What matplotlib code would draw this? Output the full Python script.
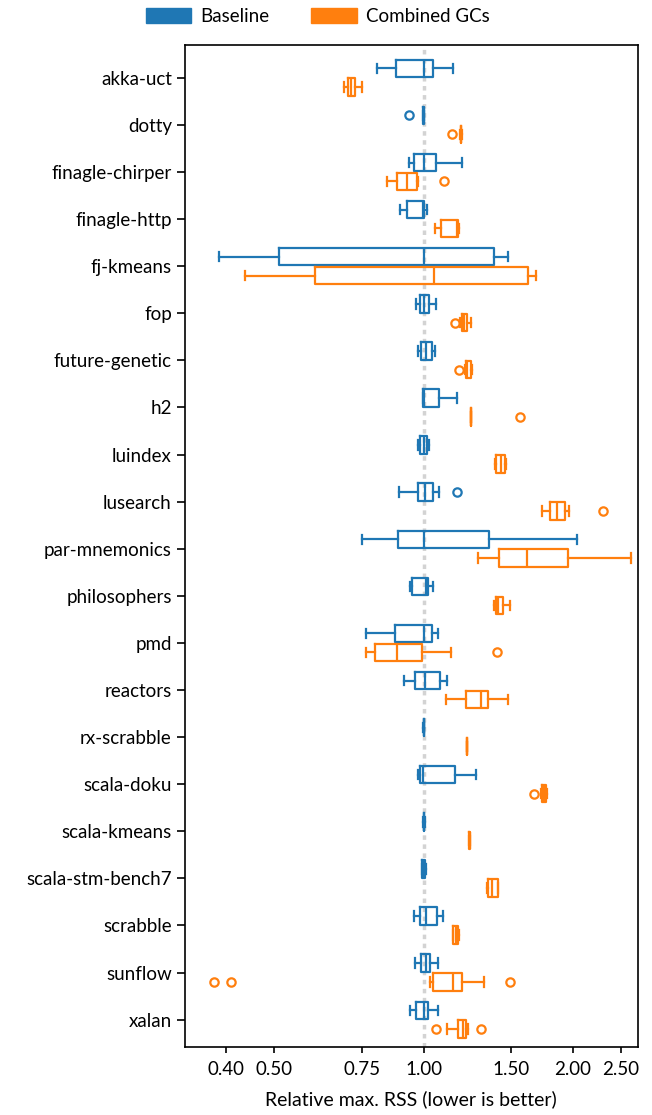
import matplotlib
matplotlib.use("Agg")
import matplotlib.pyplot as plt
from matplotlib.patches import Patch
import numpy as np

plt.rcParams['font.family'] = ['Lato', 'DejaVu Sans']

categories = ["akka-uct", "dotty", "finagle-chirper", "finagle-http", "fj-kmeans", "fop",
              "future-genetic", "h2", "luindex", "lusearch", "par-mnemonics", "philosophers",
              "pmd", "reactors", "rx-scrabble", "scala-doku", "scala-kmeans",
              "scala-stm-bench7", "scrabble", "sunflow", "xalan"]

# Baseline: whislo, q1, med, q3, whishi
base_whislo = [0.804, 0.997, 0.933, 0.896, 0.386, 0.963, 0.974, 0.995, 0.975, 0.890, 0.751, 0.938,
               0.764, 0.913, 0.998, 0.975, 0.998, 0.990, 0.957, 0.962, 0.938]
base_q1 =     [0.880, 0.998, 0.955, 0.924, 0.510, 0.983, 0.986, 0.995, 0.985, 0.974, 0.889, 0.946,
               0.876, 0.959, 0.999, 0.983, 0.999, 0.992, 0.983, 0.986, 0.963]
base_med =    [1.003, 1.000, 1.003, 0.995, 1.000, 1.003, 1.011, 1.000, 1.000, 1.006, 1.000, 1.010,
               1.000, 1.005, 1.000, 0.998, 1.000, 1.000, 1.010, 1.009, 1.003]
base_q3 =     [1.043, 1.002, 1.059, 1.000, 1.386, 1.025, 1.038, 1.075, 1.015, 1.043, 1.356, 1.020,
               1.041, 1.080, 1.001, 1.157, 1.001, 1.008, 1.062, 1.028, 1.022]
base_whishi = [1.147, 1.003, 1.193, 1.014, 1.477, 1.057, 1.054, 1.166, 1.025, 1.072, 2.034, 1.046,
               1.067, 1.113, 1.003, 1.273, 1.004, 1.010, 1.095, 1.067, 1.070]
base_fliers = [[], [0.933], [], [], [], [], [], [], [], [1.169], [], [],
               [], [], [], [], [], [], [], [], []]

# Combined GCs
comb_whislo = [0.689, 1.185, 0.845, 1.054, 0.437, 1.184, 1.211, 1.243, 1.390, 1.734, 1.285, 1.386,
               0.764, 1.111, 1.220, 1.720, 1.235, 1.343, 1.144, 1.030, 1.116]
comb_q1 =     [0.703, 1.187, 0.882, 1.085, 0.604, 1.193, 1.215, 1.244, 1.397, 1.798, 1.419, 1.398,
               0.797, 1.217, 1.221, 1.735, 1.236, 1.350, 1.146, 1.046, 1.171]
comb_med =    [0.714, 1.189, 0.924, 1.166, 1.047, 1.206, 1.225, 1.245, 1.430, 1.855, 1.615, 1.414,
               0.885, 1.305, 1.222, 1.750, 1.237, 1.375, 1.160, 1.144, 1.199]
comb_q3 =     [0.727, 1.191, 0.968, 1.171, 1.625, 1.221, 1.244, 1.246, 1.459, 1.927, 1.957, 1.447,
               0.991, 1.348, 1.223, 1.765, 1.238, 1.410, 1.174, 1.197, 1.217]
comb_whishi = [0.751, 1.193, 0.974, 1.180, 1.682, 1.244, 1.250, 1.247, 1.465, 1.963, 2.615, 1.493,
               1.135, 1.481, 1.224, 1.775, 1.240, 1.414, 1.176, 1.325, 1.230]
comb_fliers = [[], [1.140], [1.097], [], [], [1.158], [1.178], [1.562], [], [2.296], [], [],
               [1.404], [], [], [1.669], [], [], [], [0.378, 0.409, 1.493], [1.059, 1.305]]

xticks = [0.40, 0.50, 0.75, 1.00, 1.50, 2.00, 2.50]
xtick_labels = ["0.40", "0.50", "0.75", "1.00", "1.50", "2.00", "2.50"]

blue = "#1f77b4"
orange = "#ff7f0e"

fig = plt.figure(figsize=(6.52, 11.15), dpi=100)
ax = fig.add_axes([0.2837, 0.061, 0.978 - 0.2837, 0.9596 - 0.061])

ax.axvline(1.0, color="#d3d3d3", linestyle=(0, (1.3, 1.3)), linewidth=2.5, zorder=0)

def stats(wl, q1, med, q3, wh, fl):
    return [dict(whislo=a, q1=b, med=c, q3=d, whishi=e, fliers=f)
            for a, b, c, d, e, f in zip(wl, q1, med, q3, wh, fl)]

pos = np.arange(len(categories))
for st, off, col in [
    (stats(base_whislo, base_q1, base_med, base_q3, base_whishi, base_fliers), -0.2, blue),
    (stats(comb_whislo, comb_q1, comb_med, comb_q3, comb_whishi, comb_fliers), 0.2, orange),
]:
    lw = 1.6
    ax.bxp(st, positions=pos + off, vert=False, widths=0.37, showfliers=True,
           boxprops=dict(color=col, linewidth=lw),
           whiskerprops=dict(color=col, linewidth=lw),
           capprops=dict(color=col, linewidth=lw),
           medianprops=dict(color=col, linewidth=lw),
           flierprops=dict(marker="o", markerfacecolor="none", markeredgecolor=col,
                           markersize=6, markeredgewidth=1.6),
           capwidths=0.2, manage_ticks=False)

ax.set_xscale("log")
ax.set_xlim(0.330, 2.70)
ax.set_xticks(xticks)
ax.set_xticklabels(xtick_labels)
ax.xaxis.set_minor_locator(matplotlib.ticker.NullLocator())
ax.set_yticks(pos)
ax.set_yticklabels(categories)
ax.set_ylim(20.58, -0.694)
ax.tick_params(axis="y", labelsize=13.5, length=5.5, width=1.2, pad=4)
ax.tick_params(axis="x", labelsize=13.5, length=4, width=1.2, pad=6)
for s in ax.spines.values():
    s.set_linewidth(1.2)
ax.set_xlabel("Relative max. RSS (lower is better)", fontsize=14, labelpad=9)

handles = [Patch(facecolor=blue, edgecolor=blue, label="Baseline"),
           Patch(facecolor=orange, edgecolor=orange, label="Combined GCs")]
fig.legend(handles=handles, loc="upper center", bbox_to_anchor=(0.487, 1.008), ncol=2,
           frameon=False, fontsize=13.5, handlelength=2.45, handleheight=0.89, columnspacing=2.2,
           handletextpad=0.48)

fig.savefig("out.png", dpi=100)
